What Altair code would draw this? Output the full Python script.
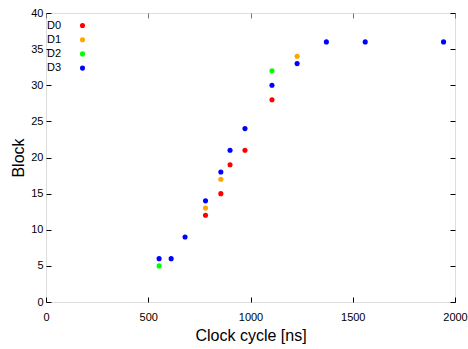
import altair as alt
import pandas as pd

d0_x = [780, 855, 900, 973, 1105]
d0_y = [12, 15, 19, 21, 28]
d1_x = [780, 855, 1228]
d1_y = [13, 17, 34]
d2_x = [553, 1105]
d2_y = [5, 32]
d3_x = [553, 612, 680, 780, 855, 900, 973, 1105, 1228, 1371, 1561, 1944]
d3_y = [6, 6, 9, 14, 18, 21, 24, 30, 33, 36, 36, 36]

series = ["D0", "D1", "D2", "D3"]
colors = ["#ff0000", "#ffa500", "#00ff00", "#0000ff"]

x_ticks = [0, 500, 1000, 1500, 2000]
y_ticks = [0, 5, 10, 15, 20, 25, 30, 35, 40]

rows = []
for name, xs, ys in zip(series, [d0_x, d1_x, d2_x, d3_x], [d0_y, d1_y, d2_y, d3_y]):
    for a, b in zip(xs, ys):
        rows.append({"series": name, "clock": a, "block": b})
df = pd.DataFrame(rows)

FONT = "Liberation Sans"
W, H = 409, 289

xscale = alt.Scale(domain=[0, 2000], nice=False, zero=False)
yscale = alt.Scale(domain=[0, 40], nice=False, zero=False)

points = alt.Chart(df).mark_point(filled=True, size=26, opacity=1).encode(
    x=alt.X("clock:Q", scale=xscale,
            axis=alt.Axis(title="Clock cycle [ns]", values=x_ticks, orient="bottom",
                          format="d", offset=-5, tickSize=5, domain=False, grid=False,
                          labelPadding=9, titlePadding=5, labelFontSize=11,
                          titleFontSize=16, titleFontWeight="normal",
                          labelColor="#000", titleColor="#000", tickColor="#000",
                          tickWidth=1, zindex=1,
                          labelFont=FONT, titleFont=FONT, labelFlush=False)),
    y=alt.Y("block:Q", scale=yscale,
            axis=alt.Axis(title="Block", values=y_ticks, orient="left",
                          format="d", offset=-5, tickSize=5, domain=False, grid=False,
                          labelPadding=3, titlePadding=4, labelFontSize=11,
                          titleFontSize=16, titleFontWeight="normal",
                          labelColor="#000", titleColor="#000", tickColor="#000",
                          tickWidth=1, zindex=1,
                          labelFont=FONT, titleFont=FONT, labelFlush=False)),
    color=alt.Color("series:N", scale=alt.Scale(domain=series, range=colors),
                    legend=alt.Legend(title=None, orient="none", legendX=31, legendY=7,
                                      labelAlign="right", labelOffset={"expr": "-27"},
                                      labelFontSize=11, labelFont=FONT, labelColor="#000",
                                      symbolSize=26, symbolType="circle",
                                      symbolStrokeWidth=0, rowPadding=2.2, padding=0)),
)

mirror = alt.Chart(df).mark_point(opacity=0).encode(
    x=alt.X("clock:Q", scale=xscale,
            axis=alt.Axis(title=None, values=x_ticks, orient="top", offset=-5,
                          tickSize=5, domain=False, grid=False, labels=False,
                          tickColor="#777", tickWidth=1, zindex=1)),
    y=alt.Y("block:Q", scale=yscale,
            axis=alt.Axis(title=None, values=y_ticks, orient="right", offset=-5,
                          tickSize=5, domain=False, grid=False, labels=False,
                          tickColor="#000", tickWidth=1, zindex=1)),
)

chart = alt.layer(points, mirror).resolve_scale(x="independent", y="independent").properties(
    width=W, height=H,
    autosize=alt.AutoSizeParams(type="none"),
    padding={"left": 46, "top": 13, "right": 13, "bottom": 47},
).configure_view(stroke="#000", strokeWidth=1.5).configure(background="white")

chart.save("out.html", embed_options={"renderer": "svg", "actions": False})
